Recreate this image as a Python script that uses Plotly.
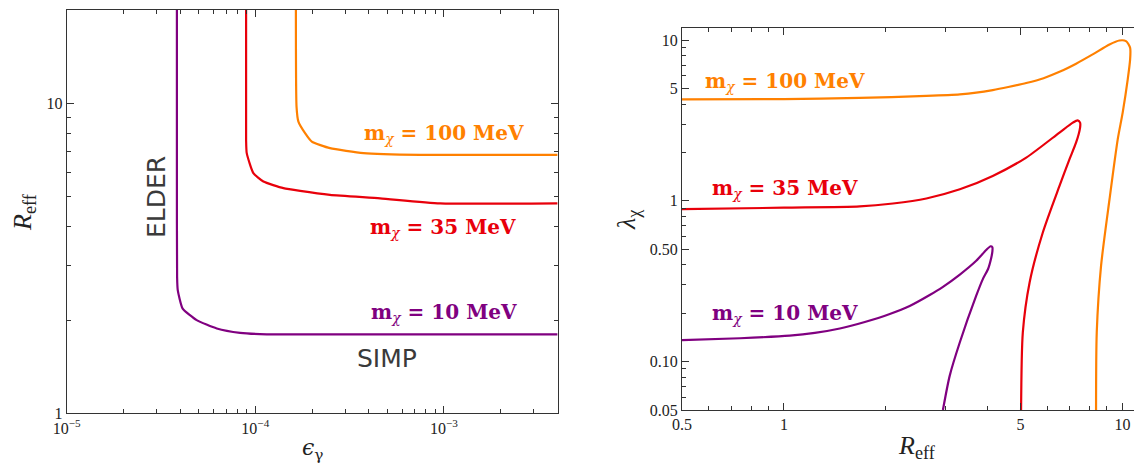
import plotly.graph_objects as go
import numpy as np

W, H = 1142, 463
OFF = 8  # default page body margin
FW, FH = W - OFF, H - OFF

# ---------------- Left panel data: R_eff vs epsilon_gamma ----------------
eps_10 = [3.84e-5, 3.84e-5, 3.85e-5, 3.88e-5, 4.12e-5, 4.89e-5, 6.25e-5, 8.31e-5, 1.15e-4, 4.0e-4, 1.0e-3, 4.0e-3]
reff_10 = [20.1, 6.0, 2.76, 2.50, 2.18, 2.00, 1.88, 1.82, 1.80, 1.80, 1.80, 1.80]

eps_35 = [8.94e-5, 8.94e-5, 9.01e-5, 9.77e-5, 1.104e-4, 1.41e-4, 1.73e-4, 2.49e-4, 4.59e-4, 9.55e-4, 4.0e-3]
reff_35 = [20.1, 7.65, 6.93, 5.97, 5.61, 5.34, 5.23, 5.08, 4.95, 4.77, 4.77]

eps_100 = [1.642e-4, 1.655e-4, 1.693e-4, 1.837e-4, 1.994e-4, 2.49e-4, 3.75e-4, 7.48e-4, 4.0e-3]
reff_100 = [20.1, 9.78, 8.76, 8.04, 7.55, 7.19, 6.93, 6.84, 6.84]

# ---------------- Right panel data: lambda_chi vs R_eff ----------------
r_10 = [0.50, 0.742, 1.04, 1.234, 1.463, 1.734, 2.055, 2.353, 2.696, 2.944, 3.31, 3.70, 3.96, 4.08, 4.13, 4.13, 4.10, 4.01, 3.87, 3.70, 3.31, 3.09, 2.95]
lam_10 = [0.136, 0.1398, 0.145, 0.1508, 0.1607, 0.1765, 0.198, 0.222, 0.2597, 0.291, 0.348, 0.424, 0.495, 0.522, 0.515, 0.485, 0.445, 0.377, 0.326, 0.257, 0.132, 0.0818, 0.05]

r_35 = [0.50, 1.0, 1.676, 2.10, 2.636, 3.31, 4.14, 5.20, 6.52, 7.14, 7.38, 7.50, 7.50, 7.30, 6.98, 6.52, 5.82, 5.32, 5.08, 5.02]
lam_35 = [0.888, 0.907, 0.923, 0.963, 1.035, 1.18, 1.43, 1.86, 2.66, 3.07, 3.17, 3.07, 2.86, 2.31, 1.82, 1.24, 0.636, 0.311, 0.152, 0.05]

r_100 = [0.50, 1.0, 1.676, 2.636, 3.31, 3.70, 4.14, 4.60, 5.20, 5.85, 6.52, 7.30, 8.17, 9.16, 9.80, 10.25, 10.54, 10.54, 10.37, 10.02, 9.69, 9.16, 8.65, 8.40, 8.36]
lam_100 = [4.28, 4.30, 4.37, 4.50, 4.60, 4.71, 4.89, 5.11, 5.41, 5.80, 6.35, 7.14, 8.15, 9.40, 9.95, 9.86, 8.97, 7.59, 5.70, 3.54, 2.42, 1.02, 0.395, 0.152, 0.05]

masses = ["10", "35", "100"]
colors = {"10": "#800080", "35": "#E8000B", "100": "#FF8000"}

# Tick values / labels
left_x_major = [1e-5, 1e-4, 1e-3]
left_x_labels = ["10<sup>\u22125</sup>", "10<sup>\u22124</sup>", "10<sup>\u22123</sup>"]
left_y_major = [1, 10]
left_y_labels = ["1", "10"]
right_x_major = [0.5, 1, 5, 10]
right_x_labels = ["0.5", "1", "5", "10"]
right_y_major = [0.05, 0.1, 0.5, 1, 5, 10]
right_y_labels = ["0.05", "0.10", "0.50", "1", "5", "10"]

left_x_minor = [m * 10.0**e for e in (-5, -4, -3) for m in range(2, 10) if m * 10.0**e <= 4e-3]
left_y_minor = [2, 3, 4, 5, 6, 7, 8, 9, 20]
right_x_minor = [0.6, 0.7, 0.8, 0.9, 2, 3, 4, 6, 7, 8, 9, 11]
right_y_minor = [0.06, 0.07, 0.08, 0.09, 0.2, 0.3, 0.4, 0.6, 0.7, 0.8, 0.9, 2, 3, 4, 6, 7, 8, 9]

fig = go.Figure()

left_data = {"10": (eps_10, reff_10), "35": (eps_35, reff_35), "100": (eps_100, reff_100)}
right_data = {"10": (r_10, lam_10), "35": (r_35, lam_35), "100": (r_100, lam_100)}

for m in masses:
    x, y = left_data[m]
    fig.add_trace(go.Scatter(x=x, y=y, mode="lines", xaxis="x", yaxis="y",
                             line=dict(color=colors[m], width=2.2, shape="spline", smoothing=0.5),
                             showlegend=False, hoverinfo="skip"))
for m in masses:
    x, y = right_data[m]
    fig.add_trace(go.Scatter(x=x, y=y, mode="lines", xaxis="x2", yaxis="y2",
                             line=dict(color=colors[m], width=2.2, shape="spline", smoothing=0.7),
                             showlegend=False, hoverinfo="skip"))

def px(xp, yp):
    return (xp - OFF) / FW, 1 - (yp - OFF) / FH

tickfont = dict(family="Liberation Serif, DejaVu Serif, serif", size=16, color="#222")
axis_common = dict(type="log", showgrid=False, zeroline=False, showline=True, linecolor="#333",
                   linewidth=1.2, mirror="allticks", ticks="inside", ticklen=7, tickwidth=1,
                   tickcolor="#333", tickfont=tickfont, automargin=False)

def minor(vals):
    return dict(tickmode="array", tickvals=vals, ticks="inside", ticklen=4, tickcolor="#333", showgrid=False)

lx0, lx1, ly0, ly1 = 66.7, 558, 10, 413.3
rx0, rx1, ry0, ry1 = 682, 1141, 28, 410

fig.update_layout(
    width=FW, height=FH, margin=dict(l=0, r=0, t=0, b=0, autoexpand=False),
    paper_bgcolor="white", plot_bgcolor="white",
    xaxis=dict(axis_common, domain=[px(lx0, 0)[0], px(lx1, 0)[0]], anchor="y",
               range=[-5, np.log10(4.03e-3)], tickmode="array", tickvals=left_x_major,
               ticktext=left_x_labels, minor=minor(left_x_minor)),
    yaxis=dict(axis_common, domain=[px(0, ly1)[1], px(0, ly0)[1]], anchor="x",
               range=[0, np.log10(20.1)], tickmode="array", tickvals=left_y_major, ticktext=left_y_labels,
               minor=minor(left_y_minor)),
    xaxis2=dict(axis_common, domain=[px(rx0, 0)[0], min(1.0, px(rx1, 0)[0])], anchor="y2",
                range=[np.log10(0.5), np.log10(11.35)], tickmode="array", tickvals=right_x_major,
                ticktext=right_x_labels, minor=minor(right_x_minor)),
    yaxis2=dict(axis_common, domain=[px(0, ry1)[1], px(0, ry0)[1]], anchor="x2",
                range=[np.log10(0.05), np.log10(11.9)], tickmode="array", tickvals=right_y_major,
                ticktext=right_y_labels, minor=minor(right_y_minor)),
)

lab_font = "DejaVu Serif, serif"
def mlabel(m):
    return "<b>m</b><sub><i>\u03c7</i></sub><b> = %s MeV</b>" % m

annos = []
left_pos = {"100": (444, 134), "35": (443, 228), "10": (444, 313)}
right_pos = {"100": (785, 82), "35": (785, 189), "10": (785, 314)}
for m in masses:
    for pos in (left_pos, right_pos):
        xp, yp = px(*pos[m])
        annos.append(dict(x=xp, y=yp, xref="paper", yref="paper", text=mlabel(m), showarrow=False,
                          font=dict(family=lab_font, size=20, color=colors[m]),
                          xanchor="center", yanchor="middle"))

sans = "DejaVu Sans, sans-serif"
xp, yp = px(387, 358)
annos.append(dict(x=xp, y=yp, xref="paper", yref="paper", text="SIMP", showarrow=False,
                  font=dict(family=sans, size=25, color="#3a3a3a"), xanchor="center", yanchor="middle"))
xp, yp = px(156, 197)
annos.append(dict(x=xp, y=yp, xref="paper", yref="paper", text="ELDER", showarrow=False, textangle=-90,
                  font=dict(family=sans, size=25, color="#3a3a3a"), xanchor="center", yanchor="middle"))

serif = "Liberation Serif, DejaVu Serif, serif"
xp, yp = px(24, 212)
annos.append(dict(x=xp, y=yp, xref="paper", yref="paper", text="<i>R</i><sub>eff</sub>", showarrow=False,
                  textangle=-90, font=dict(family=serif, size=26, color="#222"),
                  xanchor="center", yanchor="middle"))
xp, yp = px(313, 449)
annos.append(dict(x=xp, y=yp, xref="paper", yref="paper", text="<i>\u03f5</i><sub>\u03b3</sub>", showarrow=False,
                  font=dict(family="DejaVu Serif, serif", size=22, color="#222"),
                  xanchor="center", yanchor="middle"))
xp, yp = px(917, 447)
annos.append(dict(x=xp, y=yp, xref="paper", yref="paper", text="<i>R</i><sub>eff</sub>", showarrow=False,
                  font=dict(family=serif, size=26, color="#222"), xanchor="center", yanchor="middle"))
xp, yp = px(628, 220)
annos.append(dict(x=xp, y=yp, xref="paper", yref="paper", text="<i>\u03bb</i><sub>\u03c7</sub>", showarrow=False,
                  textangle=-90, font=dict(family=serif, size=26, color="#222"),
                  xanchor="center", yanchor="middle"))

fig.update_layout(annotations=annos)
fig.write_html("out.html")
